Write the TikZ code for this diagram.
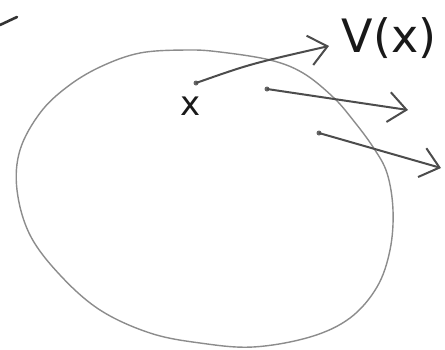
\documentclass[tikz,border=0pt]{standalone}
\usepackage{fontspec}
\setmainfont{DejaVu Sans}
\usetikzlibrary{arrows.meta}
\begin{document}
\begin{tikzpicture}[x=0.5pt,y=-0.5pt,
  blob/.style={draw=black!45, line width=0.7pt},
  vec/.style={draw=black!70, line width=1pt, -{Straight Barb[length=9pt,width=15pt,line width=1pt]}},
  tail/.style={circle, fill=black!60, inner sep=0pt, minimum size=2.5pt},
  lbl/.style={text=black!90, inner sep=0pt}]
\useasboundingbox (0,0) rectangle (445,349);
\fill[white] (0,0) rectangle (445,349);
% stray stroke top-left
\draw[black!80, line width=1.3pt, line cap=round] (0,25) -- (17,17);
% region boundary
\draw[blob] plot[smooth cycle, tension=0.6] coordinates {
  (187,50) (220,52) (270,60) (303,73) (333,97) (353,120) (373,147) (387,173)
  (393,210) (390,250) (377,287) (350,318) (310,337)
  (253,347) (200,343) (150,333) (100,310) (60,275) (30,235)
  (17,190) (20,150) (40,113) (67,87) (100,67) (140,53)};
% vectors
\node[tail] (s1) at (196,83) {};
\node[tail] (s2) at (267,89) {};
\node[tail] (s3) at (319,133) {};
\coordinate (e1) at (329,46);
\coordinate (e2) at (408,110);
\coordinate (e3) at (441,168);
\draw[vec] (s1.center) .. controls (250,64) .. (e1);
\draw[vec] (s2.center) -- (e2);
\draw[vec] (s3.center) -- (e3);
% labels
\node[lbl, font=\fontsize{23}{25}\selectfont] (v) at (389,38) {V(x)};
\node[lbl, font=\fontsize{17}{18}\selectfont] (x) at (191,106) {x};
\end{tikzpicture}
\end{document}
